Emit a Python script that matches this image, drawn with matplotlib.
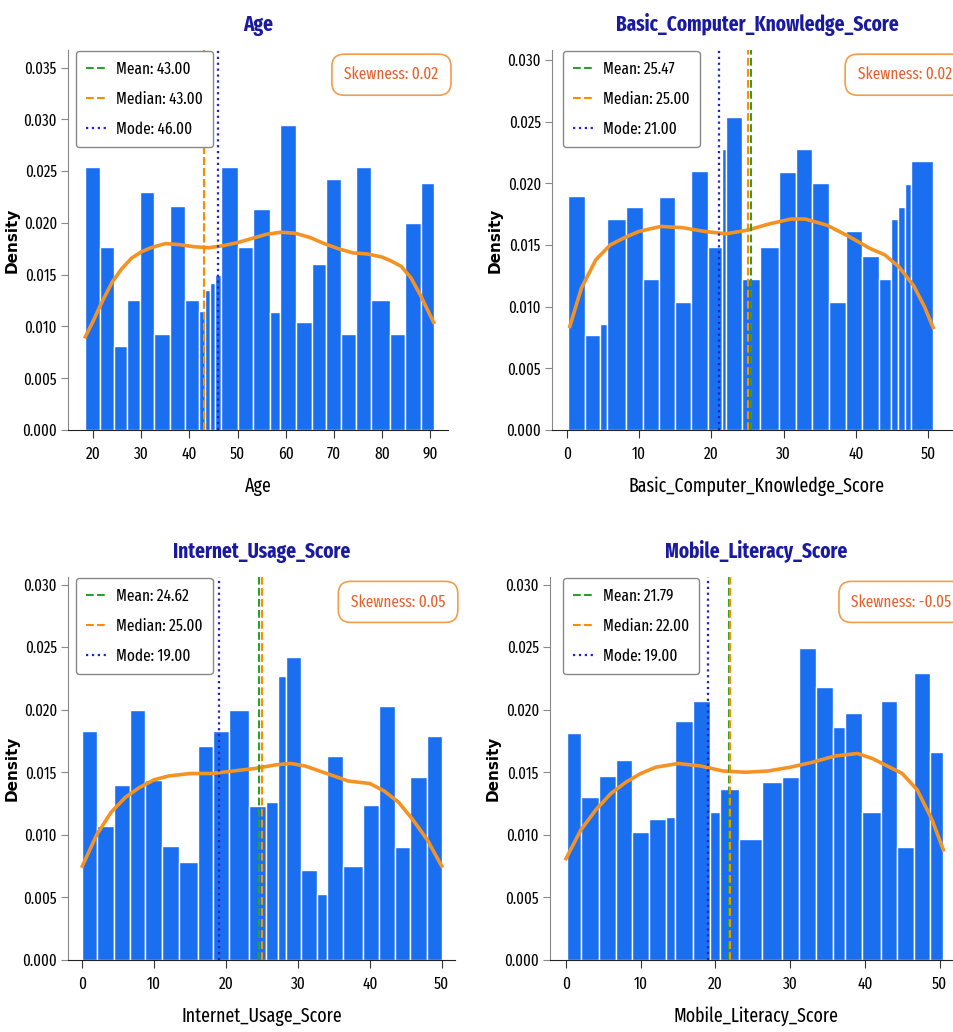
import numpy as np
import matplotlib
matplotlib.use("Agg")
import matplotlib.pyplot as plt
from matplotlib.ticker import FormatStrFormatter

plt.rcParams['font.family'] = ['Fira Sans Extra Condensed', 'DejaVu Sans']

# Density histograms (bin edges + bar heights) for each score column.
age_edges = [18.4, 21.4, 24.4, 27.1, 29.7, 32.7, 35.9, 39.0, 42.1, 43.2, 44.3, 45.4, 46.6,
             50.0, 53.3, 56.7, 58.9, 62.2, 65.4, 68.4, 71.5, 74.6, 77.7, 81.7, 84.8, 88.0, 90.7]
age_heights = [0.0254, 0.0177, 0.0081, 0.0126, 0.0230, 0.0093, 0.0216, 0.0126, 0.0115, 0.0135,
               0.0142, 0.0150, 0.0254, 0.0177, 0.0213, 0.0114, 0.0295, 0.0104, 0.0160, 0.0242,
               0.0093, 0.0254, 0.0126, 0.0093, 0.0200, 0.0239]

bck_edges = [0.2, 2.5, 4.6, 5.6, 8.2, 10.5, 12.7, 15.0, 17.2, 19.5, 21.4, 22.0, 24.2, 26.7,
             29.3, 31.7, 33.9, 36.3, 38.6, 40.9, 43.2, 44.9, 45.9, 46.8, 47.6, 50.7]
bck_heights = [0.0190, 0.0077, 0.0086, 0.0171, 0.0181, 0.0122, 0.0189, 0.0104, 0.0210, 0.0148,
               0.0228, 0.0254, 0.0122, 0.0148, 0.0209, 0.0228, 0.0200, 0.0104, 0.0161, 0.0141,
               0.0122, 0.0171, 0.0181, 0.0199, 0.0218]

inet_edges = [0.0, 2.1, 4.35, 6.6, 8.75, 11.05, 13.5, 16.05, 18.25, 20.4, 23.15, 25.5, 27.25,
              28.35, 30.45, 32.65, 34.0, 36.25, 39.0, 41.25, 43.45, 45.65, 47.9, 50.0]
inet_heights = [0.0183, 0.0107, 0.0140, 0.0200, 0.0144, 0.0091, 0.0078, 0.0171, 0.0183, 0.0200,
                0.0123, 0.0126, 0.0227, 0.0242, 0.0072, 0.0053, 0.0163, 0.0075, 0.0124, 0.0203,
                0.0090, 0.0146, 0.0179]

mob_edges = [0.1, 2.05, 4.45, 6.7, 8.85, 11.15, 13.35, 14.65, 16.95, 19.3, 20.6, 23.1, 26.2,
             28.95, 31.2, 33.45, 35.75, 37.35, 39.55, 42.1, 44.35, 46.6, 48.75, 50.5]
mob_heights = [0.0181, 0.0130, 0.0147, 0.0160, 0.0102, 0.0113, 0.0114, 0.0191, 0.0207, 0.0118,
               0.0137, 0.0097, 0.0142, 0.0146, 0.0249, 0.0218, 0.0186, 0.0197, 0.0118, 0.0207,
               0.0090, 0.0229, 0.0166]

# KDE curves
age_kde_x = [18.4, 20, 22, 24, 26, 28, 30, 32, 35, 38, 41, 44, 47, 50, 53, 56, 59, 62, 65,
             68, 71, 74, 77, 80, 82, 84, 86, 88, 90.7]
age_kde_y = [0.0090, 0.0105, 0.0125, 0.0143, 0.0156, 0.0166, 0.0172, 0.0176, 0.0180, 0.0179,
             0.0177, 0.0176, 0.0178, 0.0181, 0.0185, 0.0189, 0.0191, 0.0190, 0.0186, 0.0180,
             0.0175, 0.0171, 0.0170, 0.0167, 0.0163, 0.0158, 0.0147, 0.0130, 0.0104]

bck_kde_x = [0.4, 2, 4, 6, 8, 10, 13, 16, 19, 22, 25, 28, 31, 33, 36, 39, 42, 44, 46, 48, 49.5, 50.7]
bck_kde_y = [0.0084, 0.0115, 0.0138, 0.0150, 0.0156, 0.0161, 0.0165, 0.0164, 0.0161, 0.0159,
             0.0162, 0.0167, 0.0171, 0.0171, 0.0166, 0.0157, 0.0147, 0.0142, 0.0132, 0.0117,
             0.0100, 0.0083]

inet_kde_x = [0, 2, 4, 6, 8, 10, 12, 15, 18, 21, 24, 27, 29, 31, 34, 37, 40, 42, 44, 46, 48, 50]
inet_kde_y = [0.0075, 0.0100, 0.0118, 0.0130, 0.0138, 0.0144, 0.0147, 0.0149, 0.0149, 0.0151,
              0.0153, 0.0156, 0.0157, 0.0155, 0.0149, 0.0143, 0.0141, 0.0135, 0.0126, 0.0112,
              0.0096, 0.0075]

mob_kde_x = [0, 2, 4, 6, 8, 10, 12, 15, 18, 21, 24, 27, 30, 33, 36, 39, 41, 43, 45, 47, 49, 50.5]
mob_kde_y = [0.0081, 0.0104, 0.0120, 0.0133, 0.0142, 0.0149, 0.0154, 0.0157, 0.0155, 0.0151,
             0.0150, 0.0151, 0.0154, 0.0158, 0.0163, 0.0165, 0.0161, 0.0155, 0.0149, 0.0136,
             0.0112, 0.0088]

# Summary statistics
columns = ['Age', 'Basic_Computer_Knowledge_Score', 'Internet_Usage_Score', 'Mobile_Literacy_Score']
means = [43.00, 25.47, 24.62, 21.79]
medians = [43.00, 25.00, 25.00, 22.00]
modes = [46.00, 21.00, 19.00, 19.00]
skews = [0.02, 0.02, 0.05, -0.05]

edges_all = [age_edges, bck_edges, inet_edges, mob_edges]
heights_all = [age_heights, bck_heights, inet_heights, mob_heights]
kde_all = [(age_kde_x, age_kde_y), (bck_kde_x, bck_kde_y),
           (inet_kde_x, inet_kde_y), (mob_kde_x, mob_kde_y)]

W, H = 954, 1032
fig = plt.figure(figsize=(W / 100, H / 100), dpi=100)

# axes boxes in pixels: left, right, top, bottom
boxes = [(68, 448, 50, 430), (552, 962, 50, 430), (68, 455, 577, 960), (550, 962, 577, 960)]
xlims = [(14.8, 93.7), (-2.07, 54.7), (-1.99, 51.85), (-2.14, 53.0)]
ylims = [0.0367, 0.0308, 0.0306, 0.0306]
xticks = [range(20, 91, 10), range(0, 51, 10), range(0, 51, 10), range(0, 51, 10)]
ylabel_x = [20, 503, 20, 501]   # right edge of the rotated "Density" label, px
legend_x = [76, 563, 76, 563]   # left edge of the legend frame, px

BAR = '#1a6ef0'
KDE = '#f39325'

for i, col in enumerate(columns):
    l, r, t, b = boxes[i]
    aw, ah = r - l, b - t
    ax = fig.add_axes([l / W, 1 - b / H, aw / W, ah / H])
    edges = np.array(edges_all[i])
    ax.hist(edges[:-1], bins=edges, weights=heights_all[i], color=BAR,
            edgecolor='white', linewidth=1.0)
    kx, ky = kde_all[i]
    ax.plot(kx, ky, color=KDE, lw=2.6)

    ax.axvline(means[i], color='#2ca02c', ls='--', lw=1.5, label=f'Mean: {means[i]:.2f}')
    ax.axvline(medians[i], color='#ff8c00', ls='--', lw=1.5, label=f'Median: {medians[i]:.2f}')
    ax.axvline(modes[i], color='#2222cc', ls=':', lw=1.6, label=f'Mode: {modes[i]:.2f}')

    ax.set_xlim(*xlims[i])
    ax.set_ylim(0, ylims[i])
    ax.set_xticks(list(xticks[i]))
    ax.set_yticks(np.arange(0, ylims[i], 0.005))
    ax.yaxis.set_major_formatter(FormatStrFormatter('%.3f'))
    ax.tick_params(axis='x', labelsize=12, length=6, pad=6, color='#333333')
    ax.tick_params(axis='y', labelsize=11.5, length=5, pad=3, color='#888888')

    for s in ['top', 'right']:
        ax.spines[s].set_visible(False)
    ax.spines['left'].set_color('#888888')
    ax.spines['bottom'].set_color('#222222')

    ax.set_title(col, fontsize=15, fontweight='bold', color='#1a1aa0', pad=14)
    ax.set_xlabel(col, fontsize=14, labelpad=10)
    ax.set_ylabel('Density', fontsize=11, fontweight='bold', family='DejaVu Sans')
    ax.yaxis.set_label_coords((ylabel_x[i] - l) / aw, 0.5)

    ax.legend(loc='upper left', bbox_to_anchor=((legend_x[i] - l) / aw, 1 - 1 / ah),
              borderaxespad=0, fontsize=12, handlelength=1.2, handletextpad=0.6,
              labelspacing=0.85, borderpad=0.6, fancybox=True, framealpha=1.0,
              edgecolor='#888888')

    ax.text(0.975, 0.935, f'Skewness: {skews[i]:.2f}', transform=ax.transAxes,
            ha='right', va='center', fontsize=12, color='#e4622d',
            bbox=dict(boxstyle='round,pad=0.75', fc='white', ec='#f39c4a', lw=1.2))

fig.savefig('out.png', dpi=100)
